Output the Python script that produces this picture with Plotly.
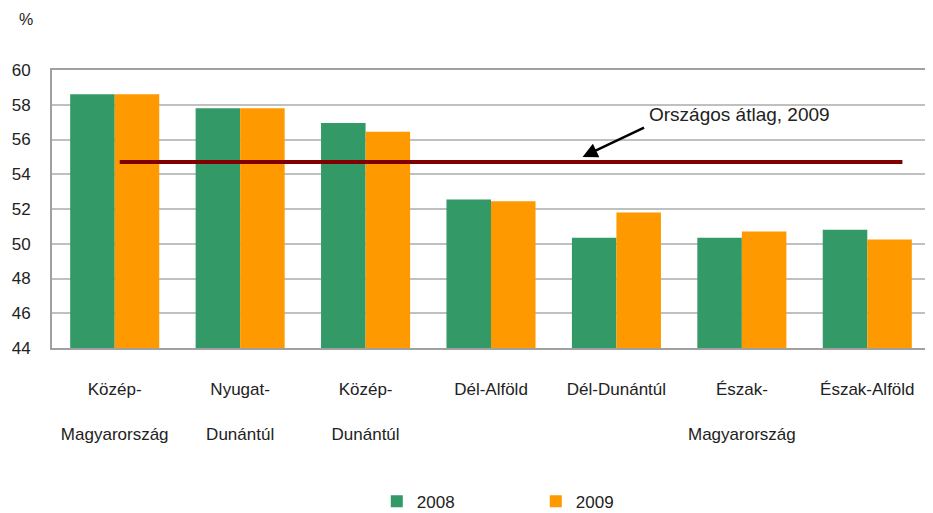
import plotly.graph_objects as go

categories = ["Közép-<br><br>Magyarország", "Nyugat-<br><br>Dunántúl", "Közép-<br><br>Dunántúl",
              "Dél-Alföld", "Dél-Dunántúl", "Észak-<br><br>Magyarország", "Észak-Alföld"]
values_2008 = [58.6, 57.8, 56.95, 52.55, 50.35, 50.35, 50.8]
values_2009 = [58.6, 57.8, 56.45, 52.45, 51.8, 50.7, 50.25]
national_avg_2009 = 54.7
y_ticks = [44, 46, 48, 50, 52, 54, 56, 58, 60]

FONT = "Liberation Sans Narrow, Arial Narrow, Liberation Sans, sans-serif"
idx = list(range(len(categories)))

fig = go.Figure()
fig.add_trace(go.Bar(x=idx, y=values_2008, name="2008", marker_color="#339966",
                     marker_line_width=0))
fig.add_trace(go.Bar(x=idx, y=values_2009, name="2009", marker_color="#FF9900",
                     marker_line_width=0))

fig.add_shape(type="line", xref="x", yref="y", x0=0.04, x1=6.28,
              y0=national_avg_2009, y1=national_avg_2009,
              line=dict(color="#800000", width=4), layer="above")

fig.add_annotation(x=3.73, y=55.0, xref="x", yref="y", text="", showarrow=True,
                   ax=63, ay=-30, arrowhead=2, arrowsize=1.2, arrowwidth=2.5,
                   arrowcolor="#000000", standoff=0)
fig.add_annotation(x=4.98, y=57.45, xref="x", yref="y", text="Országos átlag, 2009",
                   showarrow=False, font=dict(family=FONT, size=19, color="#222222"))
fig.add_annotation(x=-0.03, y=1.18, xref="paper", yref="paper", text="%", showarrow=False,
                   xanchor="center", yanchor="middle",
                   font=dict(family=FONT, size=16, color="#222222"))

fig.update_layout(
    width=933, height=513,
    margin=dict(l=44, r=11, t=62, b=173, autoexpand=False),
    paper_bgcolor="white", plot_bgcolor="white",
    barmode="group", bargap=0.29, bargroupgap=0,
    font=dict(family=FONT, size=16, color="#222222"),
    showlegend=True,
    legend=dict(orientation="h", x=0.551, xanchor="center", y=-0.553, yanchor="middle",
                entrywidth=114, entrywidthmode="pixels",
                font=dict(family=FONT, size=17, color="#222222")),
)
fig.update_xaxes(tickmode="array", tickvals=idx, ticktext=categories,
                 range=[-0.5, 6.5], showgrid=False, showline=True, mirror=True,
                 linecolor="#A0A0A0", linewidth=2, ticks="", ticklabelstandoff=25,
                 automargin=False,
                 tickfont=dict(family=FONT, size=17, color="#222222"))
fig.update_yaxes(range=[44, 60], tickvals=y_ticks, showgrid=True, gridcolor="#C0C0C0",
                 gridwidth=2, showline=True, mirror=True, linecolor="#A0A0A0",
                 linewidth=2, ticks="", ticklabelstandoff=16, zeroline=False,
                 automargin=False,
                 tickfont=dict(family=FONT, size=17, color="#222222"))

fig.write_html("out.html")
